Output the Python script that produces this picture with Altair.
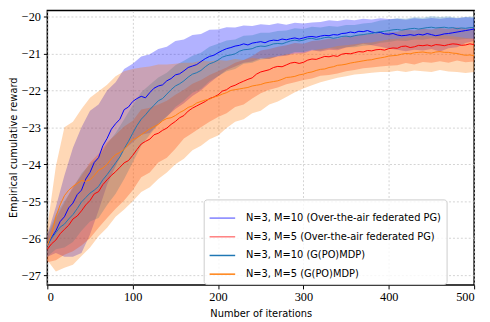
import altair as alt
import pandas as pd

iters_fine = list(range(0, 501, 5))
iters = list(range(0, 501, 10))

series_names = [
    "N=3, M=10 (Over-the-air federated PG)",
    "N=3, M=5 (Over-the-air federated PG)",
    "N=3, M=10 (G(PO)MDP)",
    "N=3, M=5 (G(PO)MDP)",
]
line_colors = ["#0000ff", "#ff0000", "#1f77b4", "#ff7f0e"]
legend_colors = ["#7f7fff", "#ff7f7f", "#1f77b4", "#ff7f0e"]
band_colors = ["#0000ff", "#ff2a00", "#1f77b4", "#ff7f0e"]

# mean curves, every 5 iterations
blue_mean = [-26.20, -25.98, -25.80, -25.55, -25.42, -25.18, -25.05, -24.82, -24.70, -24.40,
             -24.22, -23.95, -23.82, -23.50, -23.30, -23.05, -22.90, -22.78, -22.52, -22.45,
             -22.30, -22.22, -22.16, -22.20, -22.06, -21.94, -21.88, -21.85, -21.74, -21.68,
             -21.58, -21.55, -21.47, -21.38, -21.34, -21.30, -21.22, -21.14, -21.08, -21.05,
             -20.98, -20.92, -20.87, -20.84, -20.80, -20.78, -20.74, -20.77, -20.72, -20.70,
             -20.68, -20.71, -20.66, -20.64, -20.65, -20.61, -20.63, -20.60, -20.58, -20.61,
             -20.58, -20.55, -20.54, -20.56, -20.53, -20.51, -20.52, -20.49, -20.50, -20.46,
             -20.45, -20.42, -20.44, -20.40, -20.41, -20.38, -20.42, -20.44, -20.43, -20.47,
             -20.48, -20.46, -20.50, -20.52, -20.51, -20.49, -20.51, -20.48, -20.50, -20.46,
             -20.49, -20.52, -20.50, -20.47, -20.46, -20.44, -20.42, -20.40, -20.38, -20.36, -20.34]
red_mean = [-26.30, -26.15, -26.05, -25.88, -25.76, -25.65, -25.48, -25.40, -25.26, -25.10,
            -24.98, -24.80, -24.74, -24.55, -24.42, -24.30, -24.20, -24.08, -23.96, -23.90,
            -23.76, -23.60, -23.45, -23.38, -23.32, -23.20, -23.16, -23.08, -23.02, -22.92,
            -22.84, -22.74, -22.68, -22.56, -22.48, -22.42, -22.36, -22.30, -22.22, -22.18,
            -22.12, -22.02, -21.98, -21.90, -21.86, -21.80, -21.75, -21.70, -21.66, -21.56,
            -21.50, -21.47, -21.44, -21.38, -21.35, -21.36, -21.31, -21.26, -21.24, -21.27,
            -21.24, -21.18, -21.15, -21.16, -21.12, -21.08, -21.09, -21.06, -21.08, -21.02,
            -21.00, -21.01, -20.98, -20.95, -20.96, -20.92, -20.93, -20.90, -20.89, -20.91,
            -20.87, -20.85, -20.86, -20.81, -20.80, -20.84, -20.82, -20.78, -20.79, -20.77,
            -20.80, -20.76, -20.77, -20.79, -20.76, -20.74, -20.75, -20.78, -20.77, -20.74, -20.76]
teal_mean = [-26.20, -26.00, -25.85, -25.70, -25.62, -25.48, -25.36, -25.20, -25.02, -24.90,
             -24.78, -24.70, -24.60, -24.42, -24.28, -24.12, -23.96, -23.80, -23.58, -23.38,
             -23.16, -22.95, -22.78, -22.66, -22.52, -22.40, -22.28, -22.22, -22.10, -21.98,
             -21.88, -21.82, -21.74, -21.64, -21.56, -21.52, -21.46, -21.36, -21.28, -21.24,
             -21.18, -21.10, -21.06, -21.04, -21.01, -20.94, -20.90, -20.89, -20.87, -20.82,
             -20.80, -20.81, -20.78, -20.74, -20.73, -20.74, -20.70, -20.66, -20.64, -20.66,
             -20.64, -20.60, -20.59, -20.62, -20.60, -20.57, -20.56, -20.59, -20.57, -20.54,
             -20.53, -20.55, -20.52, -20.50, -20.49, -20.47, -20.46, -20.43, -20.41, -20.40,
             -20.38, -20.36, -20.35, -20.37, -20.35, -20.33, -20.32, -20.34, -20.32, -20.30,
             -20.29, -20.31, -20.30, -20.29, -20.31, -20.30, -20.33, -20.31, -20.32, -20.30, -20.30]
orange_mean = [-26.20, -25.90, -25.42, -25.10, -24.85, -24.70, -24.60, -24.52, -24.44, -24.46,
               -24.42, -24.30, -24.16, -24.10, -24.00, -23.85, -23.74, -23.68, -23.60, -23.45,
               -23.34, -23.28, -23.20, -23.12, -23.04, -22.98, -22.92, -22.82, -22.76, -22.74,
               -22.68, -22.60, -22.54, -22.46, -22.42, -22.34, -22.30, -22.26, -22.24, -22.18,
               -22.15, -22.10, -22.06, -22.00, -21.98, -21.96, -21.94, -21.92, -21.88, -21.86,
               -21.84, -21.80, -21.78, -21.76, -21.74, -21.70, -21.65, -21.64, -21.62, -21.58,
               -21.56, -21.52, -21.50, -21.46, -21.43, -21.42, -21.38, -21.36, -21.32, -21.31,
               -21.29, -21.26, -21.24, -21.22, -21.20, -21.18, -21.17, -21.14, -21.12, -21.10,
               -21.07, -21.06, -21.05, -21.02, -21.00, -21.01, -20.98, -20.97, -20.96, -20.98,
               -20.99, -20.96, -20.95, -20.97, -20.97, -20.99, -21.00, -21.03, -21.05, -21.04, -21.06]

# confidence bands, every 10 iterations
blue_upper = [-25.90, -25.15, -24.30, -23.55, -23.00, -22.55, -22.38, -22.00, -21.78, -21.42,
              -21.28, -21.08, -21.02, -20.88, -20.82, -20.66, -20.62, -20.50, -20.47, -20.36,
              -20.35, -20.29, -20.30, -20.24, -20.26, -20.21, -20.23, -20.18, -20.22, -20.17,
              -20.19, -20.16, -20.15, -20.10, -20.12, -20.08, -20.10, -20.06, -20.08, -20.05,
              -20.07, -20.06, -20.09, -20.05, -20.07, -20.04, -20.06, -20.03, -20.05, -20.02, -20.03]
blue_lower = [-26.50, -26.40, -26.50, -26.50, -26.40, -25.90, -25.25, -24.55, -24.05, -23.60,
              -23.40, -23.20, -23.15, -22.90, -22.70, -22.50, -22.35, -22.15, -22.00, -21.80,
              -21.62, -21.45, -21.35, -21.25, -21.22, -21.13, -21.15, -21.08, -21.06, -21.00,
              -21.00, -20.92, -20.95, -20.90, -20.91, -20.84, -20.80, -20.74, -20.78, -20.82,
              -20.87, -20.90, -20.94, -20.90, -20.92, -20.88, -20.95, -20.86, -20.83, -20.72, -20.66]
red_upper = [-25.95, -25.45, -25.05, -24.60, -24.30, -23.95, -23.72, -23.40, -23.20, -22.98,
             -22.82, -22.52, -22.47, -22.38, -22.28, -22.12, -21.98, -21.82, -21.72, -21.58,
             -21.48, -21.38, -21.25, -21.18, -21.07, -20.92, -20.88, -20.82, -20.78, -20.72,
             -20.74, -20.66, -20.64, -20.60, -20.60, -20.53, -20.52, -20.49, -20.47, -20.45,
             -20.43, -20.41, -20.35, -20.38, -20.33, -20.35, -20.31, -20.34, -20.29, -20.33, -20.31]
red_lower = [-26.65, -26.60, -26.45, -26.35, -26.20, -26.00, -25.72, -25.45, -25.20, -24.98,
             -24.70, -24.35, -24.22, -23.95, -23.82, -23.58, -23.30, -23.15, -23.00, -22.85,
             -22.72, -22.62, -22.45, -22.38, -22.22, -22.08, -21.98, -21.92, -21.83, -21.78,
             -21.72, -21.68, -21.60, -21.58, -21.54, -21.48, -21.45, -21.40, -21.38, -21.35,
             -21.33, -21.32, -21.26, -21.30, -21.23, -21.25, -21.21, -21.25, -21.19, -21.24, -21.22]
teal_upper = [-25.90, -25.35, -25.00, -24.65, -24.25, -24.00, -23.80, -23.45, -23.15, -22.78,
              -22.40, -22.05, -21.85, -21.65, -21.52, -21.32, -21.20, -21.06, -20.98, -20.82,
              -20.74, -20.65, -20.62, -20.52, -20.51, -20.44, -20.44, -20.39, -20.38, -20.32,
              -20.34, -20.28, -20.30, -20.26, -20.28, -20.23, -20.23, -20.19, -20.17, -20.11,
              -20.09, -20.05, -20.06, -20.02, -20.03, -19.99, -20.01, -20.00, -20.03, -20.01, -20.00]
teal_lower = [-26.50, -26.30, -26.25, -26.10, -25.80, -25.55, -25.45, -25.10, -24.80, -24.40,
              -23.95, -23.50, -23.20, -22.92, -22.72, -22.45, -22.28, -22.06, -21.96, -21.75,
              -21.62, -21.48, -21.42, -21.28, -21.25, -21.16, -21.14, -21.07, -21.04, -20.96,
              -20.96, -20.90, -20.92, -20.86, -20.88, -20.83, -20.83, -20.79, -20.77, -20.71,
              -20.69, -20.65, -20.66, -20.62, -20.63, -20.59, -20.61, -20.60, -20.63, -20.61, -20.60]
orange_upper = [-25.70, -24.05, -23.00, -22.85, -22.50, -22.20, -22.02, -21.85, -21.62, -21.48,
                -21.42, -21.38, -21.35, -21.30, -21.30, -21.28, -21.25, -21.25, -21.20, -21.22,
                -21.18, -21.20, -21.15, -21.18, -21.12, -21.15, -21.10, -21.08, -21.02, -21.00,
                -20.98, -20.92, -20.88, -20.85, -20.80, -20.78, -20.75, -20.72, -20.70, -20.66,
                -20.62, -20.60, -20.57, -20.55, -20.52, -20.55, -20.50, -20.52, -20.55, -20.58, -20.60]
orange_lower = [-26.60, -26.90, -26.80, -26.72, -26.48, -26.25, -25.95, -25.72, -25.42, -25.22,
                -25.00, -24.75, -24.62, -24.40, -24.22, -24.00, -23.85, -23.62, -23.50, -23.32,
                -23.22, -23.02, -22.85, -22.78, -22.62, -22.55, -22.38, -22.30, -22.18, -22.05,
                -21.95, -21.86, -21.78, -21.72, -21.66, -21.62, -21.57, -21.55, -21.52, -21.50,
                -21.50, -21.47, -21.50, -21.46, -21.48, -21.50, -21.45, -21.49, -21.50, -21.53, -21.50]

y_ticks = [-27, -26, -25, -24, -23, -22, -21, -20]
x_ticks = [0, 100, 200, 300, 400, 500]

means = [blue_mean, red_mean, teal_mean, orange_mean]
uppers = [blue_upper, red_upper, teal_upper, orange_upper]
lowers = [blue_lower, red_lower, teal_lower, orange_lower]

band_rows = []
for name, lo, hi in zip(series_names, lowers, uppers):
    for it, b, c in zip(iters, lo, hi):
        band_rows.append({"iter": it, "lo": b, "hi": c, "series": name})
band_df = pd.DataFrame(band_rows)

line_rows = []
for name, m in zip(series_names, means):
    for it, a in zip(iters_fine, m):
        line_rows.append({"iter": it, "mean": a, "series": name})
line_df = pd.DataFrame(line_rows)

X_SCALE = alt.Scale(domain=[0, 500], nice=False)
Y_SCALE = alt.Scale(domain=[-27.266, -19.84], nice=False, zero=False)

X_AXIS = alt.Axis(values=x_ticks, title="Number of iterations", format="d",
                  titleX=217, titleY=29, titleBaseline="middle")
Y_AXIS = alt.Axis(values=y_ticks, title="Empirical cumulative reward", format="d",
                  titleX=-34, titleY=139, titleAngle=270, titleAlign="center",
                  titleBaseline="middle")


def xenc():
    return alt.X("iter:Q", scale=X_SCALE, axis=X_AXIS, title="Number of iterations")


def yenc(field):
    return alt.Y(field, scale=Y_SCALE, axis=Y_AXIS, title="Empirical cumulative reward")


layers = []
for name, col in zip(series_names, band_colors):
    band = alt.Chart(band_df).transform_filter(
        alt.datum.series == name
    ).mark_area(color=col, opacity=0.3, interpolate="linear").encode(
        x=xenc(),
        y=yenc("lo:Q"),
        y2="hi:Q",
    )
    layers.append(band)

lines = alt.Chart(line_df).mark_line(strokeWidth=1.0).encode(
    x=xenc(),
    y=yenc("mean:Q"),
    color=alt.Color("series:N", scale=alt.Scale(domain=series_names, range=line_colors), legend=None),
)
layers.append(lines)

# legend carrier: one point per series (a one-point line draws nothing)
legend_df = pd.DataFrame({"iter": [iters[0]] * 4,
                          "lab": series_names,
                          "mean": [m[0] for m in means]})
legend_layer = alt.Chart(legend_df).mark_line(strokeWidth=1.5).encode(
    x=xenc(),
    y=yenc("mean:Q"),
    color=alt.Color("lab:N",
                    scale=alt.Scale(domain=series_names, range=legend_colors),
                    legend=alt.Legend(title=None, orient="none", legendX=159, legendY=192,
                                      symbolType="stroke", symbolSize=676, symbolStrokeWidth=1.5,
                                      labelFont="DejaVu Sans", labelFontSize=10, labelColor="black",
                                      labelOffset=10, labelLimit=400, rowPadding=-8, padding=5,
                                      fillColor="rgba(255,255,255,0.8)", strokeColor="#cccccc",
                                      cornerRadius=3)),
)
layers.append(legend_layer)

chart = alt.layer(*layers).resolve_scale(color="independent").properties(
    width=434, height=279,
    autosize=alt.AutoSizeParams(type="none"),
    padding={"left": 40, "top": 0, "right": 8, "bottom": 35},
).configure_view(
    stroke="black", strokeWidth=1.5
).configure_axis(
    labelFont="Liberation Serif, DejaVu Serif, serif", labelFontSize=12.5, labelColor="black",
    titleFont="DejaVu Sans", titleFontSize=10, titleFontWeight="normal", titleColor="black",
    tickColor="black", tickSize=4, tickWidth=1, labelPadding=2,
    domain=False, grid=True, gridColor="#c8c8c8", gridDash=[2, 2], gridWidth=0.8,
).configure_axisY(labelPadding=3)

chart.save("out.html", embed_options={"renderer": "svg", "actions": False})
